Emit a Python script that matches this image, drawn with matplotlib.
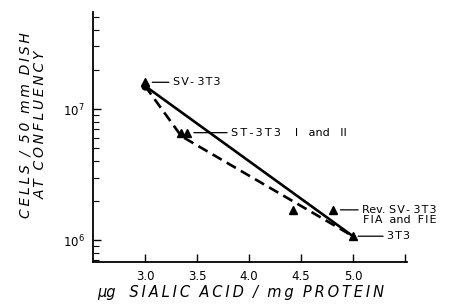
import matplotlib
matplotlib.use("Agg")
import matplotlib.pyplot as plt
from matplotlib.ticker import LogLocator, FixedLocator, NullFormatter

# measured points (sialic acid, cells per dish)
sialic = [3.0, 3.35, 3.40, 4.42, 4.81, 5.0]
cells = [1.6e7, 6.6e6, 6.6e6, 1.7e6, 1.7e6, 1.07e6]

# fitted lines
solid_x = [3.0, 5.0]
solid_y = [1.5e7, 1.07e6]
dashed_x = [3.0, 3.35, 5.0]
dashed_y = [1.5e7, 6.2e6, 1.07e6]

x_ticks = [3.0, 3.5, 4.0, 4.5, 5.0]


def spaced(s, gap="\u2009"):
    # wide hand lettering: small space between letters
    return gap.join(s)


def hair(s):
    return spaced(s, "\u200a")


plt.rcParams['font.family'] = ['DejaVu Sans']

fig = plt.figure(figsize=(4.51, 3.05), dpi=100)
ax = fig.add_axes([93 / 451, 43 / 305, 314 / 451, 250 / 305])

ax.plot(solid_x, solid_y, color="black", lw=1.9)
ax.plot(dashed_x, dashed_y, color="black", lw=1.9, ls=(0, (4, 2.2)))
ax.plot(sialic, cells, ls="none", marker="^", color="black", ms=6)
ax.plot([solid_x[0]], [solid_y[0]], ls="none", marker="o", color="black", ms=5)

ax.set_yscale("log")
ax.set_xlim(2.5, 5.52)
ax.set_ylim(6.8e5, 5.5e7)

ax.xaxis.set_major_locator(FixedLocator(x_ticks + [5.5]))
ax.set_xticklabels([f"{t:.1f}" for t in x_ticks] + [""])
ax.yaxis.set_major_locator(LogLocator(base=10, numticks=5))
ax.yaxis.set_minor_locator(LogLocator(base=10, subs=range(2, 10), numticks=10))
ax.yaxis.set_minor_formatter(NullFormatter())
ax.tick_params(direction="in", length=6, width=1, labelsize=8.5, pad=6)
ax.tick_params(axis="y", which="minor", direction="in", length=4, width=0.8)
ax.tick_params(axis="x", which="minor", length=0)

for side in ["top", "right"]:
    ax.spines[side].set_visible(False)
for side in ["left", "bottom"]:
    ax.spines[side].set_linewidth(1.3)

# labels with leader lines
line = dict(arrowstyle="-", lw=0.9, shrinkA=1, shrinkB=0)
lab = dict(fontsize=8, va="center", ha="left")
ax.annotate(hair("SV-") + " " + hair("3T3"), xy=(3.07, 1.6e7),
            xytext=(3.27, 1.6e7), arrowprops=line, **lab)
ax.annotate(spaced("ST-3T3") + "    I   and   II", xy=(3.47, 6.6e6),
            xytext=(3.83, 6.6e6), arrowprops=line, **lab)
ax.annotate("Rev. " + hair("SV-") + " " + hair("3T3"),
            xy=(4.88, 1.7e6), xytext=(5.09, 1.7e6), arrowprops=line, **lab)
ax.text(5.1, 1.42e6, hair("FIA") + "  and  " + hair("FIE"), fontsize=8,
        va="center", ha="left")
ax.annotate(hair("3T3"), xy=(5.05, 1.07e6), xytext=(5.33, 1.07e6),
            arrowprops=line, **lab)

ax.set_xlabel("\u03bcg   " + spaced("SIALIC") + "  " + spaced("ACID") + "  /  "
              + spaced("mg") + "  " + spaced("PROTEIN"),
              fontsize=10.5, style="italic")
ax.xaxis.set_label_coords((241 - 93) / 314, -(285 - 262) / 250)
ax.set_ylabel(spaced("CELLS") + "  /  " + spaced("50") + "  " + spaced("mm") + "  "
              + spaced("DISH") + "\n" + spaced("AT") + "  " + spaced("CONFLUENCY"),
              fontsize=10, style="italic", linespacing=1.15)
ax.yaxis.set_label_coords(-(93 - 48) / 314, (262 - 125) / 250)

fig.savefig("out.png", dpi=100)
